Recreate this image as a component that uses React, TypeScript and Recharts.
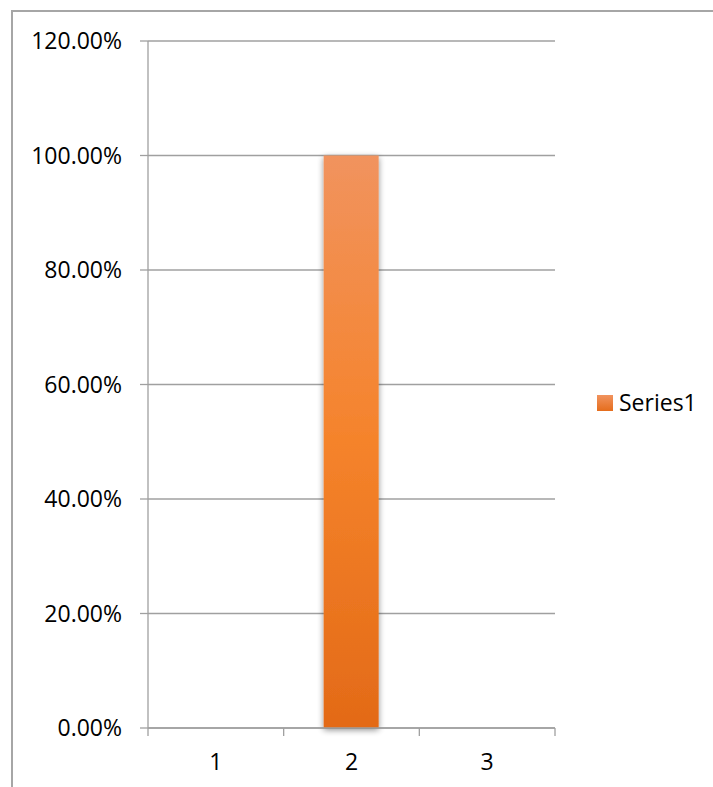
import React from "react";
import {
  BarChart,
  Bar,
  XAxis,
  YAxis,
  CartesianGrid,
  Legend,
} from "recharts";

// ---------------------- DATA ----------------------
const categories = ["1", "2", "3"];
const series1 = [0, 1, 0];
const yTicks = [0, 0.2, 0.4, 0.6, 0.8, 1.0, 1.2];
const seriesName = "Series1";

const data = categories.map((name, i) => ({ name, value: series1[i] }));

// ---------------------- LAYOUT ----------------------
const WIDTH = 713;
const HEIGHT = 787;
const MARGIN = { top: 41, right: 158, bottom: 0, left: 0 };
const Y_AXIS_W = 148;
const X_AXIS_H = 59;
const AXIS_Y = HEIGHT - X_AXIS_H;
const PLOT_W = WIDTH - MARGIN.right - Y_AXIS_W;
const HALF_BAND = PLOT_W / categories.length / 2;

const LINE = "#a0a0a0";
const FONT = "'Open Sans', sans-serif";

const pct = (v: number) => `${(v * 100).toFixed(2)}%`;

// x ticks sit on the band edges, labels in the middle of each band
function EdgeTick(props: any) {
  const { x, payload, index } = props;
  const last = index === categories.length - 1;
  return (
    <g>
      <line x1={x - HALF_BAND} y1={AXIS_Y} x2={x - HALF_BAND} y2={AXIS_Y + 8} stroke={LINE} strokeWidth={1.3} />
      {last && (
        <line x1={x + HALF_BAND} y1={AXIS_Y} x2={x + HALF_BAND} y2={AXIS_Y + 8} stroke={LINE} strokeWidth={1.3} />
      )}
      <text x={x} y={AXIS_Y + 26} dy="0.71em" textAnchor="middle" fill="#000" fontSize={23} fontFamily={FONT}>
        {payload.value}
      </text>
    </g>
  );
}

function LegendBox() {
  return (
    <div style={{ display: "flex", alignItems: "center", fontFamily: FONT }}>
      <div
        style={{
          width: 16,
          height: 16,
          marginRight: 6,
          background: "linear-gradient(#f1935e, #e56d1c)",
        }}
      />
      <span style={{ fontSize: 23, lineHeight: "23px", color: "#000" }}>{seriesName}</span>
    </div>
  );
}

export default function App() {
  return (
    <div
      style={{
        position: "absolute",
        left: 0,
        top: 0,
        width: WIDTH,
        height: HEIGHT,
        overflow: "hidden",
        background: "#fff",
        fontFamily: FONT,
      }}
    >
      {/* chart area frame */}
      <div
        style={{
          position: "absolute",
          left: 11,
          top: 10,
          width: WIDTH,
          height: HEIGHT,
          borderTop: "2px solid #a6a6a6",
          borderLeft: "2px solid #a6a6a6",
        }}
      />
      <BarChart width={WIDTH} height={HEIGHT} data={data} margin={MARGIN}>
        <defs>
          <linearGradient id="barFill" x1="0" y1="0" x2="0" y2="1">
            <stop offset="0%" stopColor="#f1935e" />
            <stop offset="50%" stopColor="#f5832b" />
            <stop offset="100%" stopColor="#e36a17" />
          </linearGradient>
          <filter id="barShadow" x="-30%" y="-5%" width="160%" height="115%">
            <feGaussianBlur in="SourceAlpha" stdDeviation="3" />
            <feOffset dx="0" dy="2" result="blur" />
            <feComponentTransfer>
              <feFuncA type="linear" slope="0.45" />
            </feComponentTransfer>
            <feMerge>
              <feMergeNode />
              <feMergeNode in="SourceGraphic" />
            </feMerge>
          </filter>
        </defs>
        <CartesianGrid vertical={false} stroke={LINE} strokeWidth={1.3} />
        <XAxis
          dataKey="name"
          height={X_AXIS_H}
          axisLine={{ stroke: LINE, strokeWidth: 1.3 }}
          tickLine={false}
          tick={<EdgeTick />}
          interval={0}
        />
        <YAxis
          width={Y_AXIS_W}
          domain={[0, 1.2]}
          ticks={yTicks}
          tickFormatter={pct}
          axisLine={{ stroke: LINE, strokeWidth: 1.3 }}
          tickLine={{ stroke: LINE, strokeWidth: 1.3 }}
          tickSize={8}
          tickMargin={18}
          tick={{ fill: "#000", fontSize: 23, fontFamily: FONT }}
        />
        <Legend
          layout="horizontal"
          align="center"
          verticalAlign="middle"
          content={() => <LegendBox />}
          wrapperStyle={{ position: "absolute", left: 597, top: 391, width: "auto", height: 23 }}
        />
        <Bar
          dataKey="value"
          name={seriesName}
          barSize={55}
          fill="url(#barFill)"
          filter="url(#barShadow)"
          isAnimationActive={false}
        />
      </BarChart>
    </div>
  );
}
